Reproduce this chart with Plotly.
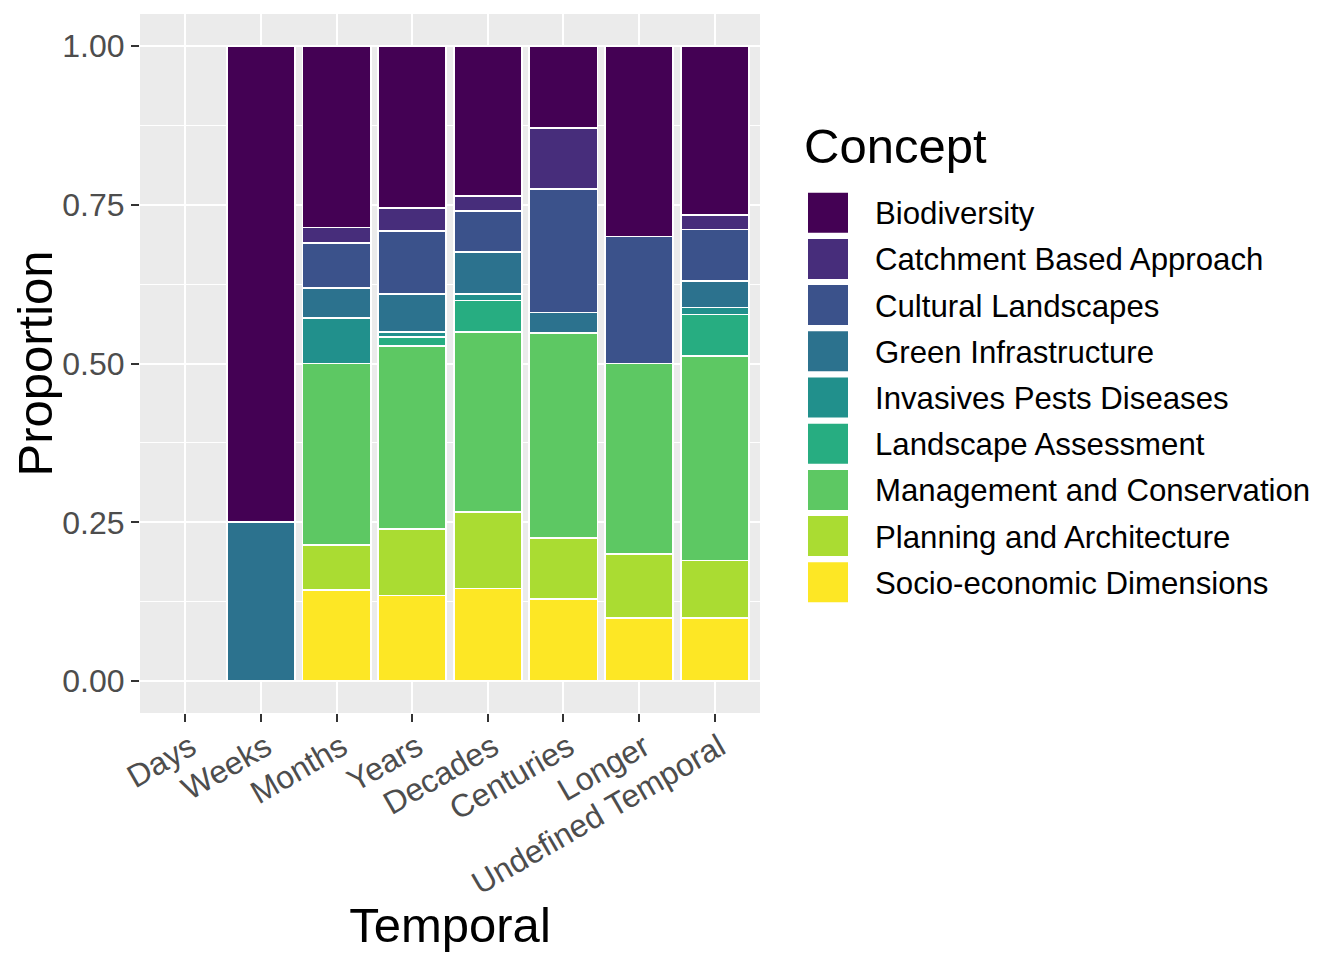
import plotly.graph_objects as go

# Temporal categories (x axis) and concepts (stack, legend order top -> bottom)
temporal = ["Days", "Weeks", "Months", "Years", "Decades", "Centuries", "Longer", "Undefined Temporal"]
concepts = [
    "Biodiversity",
    "Catchment Based Approach",
    "Cultural Landscapes",
    "Green Infrastructure",
    "Invasives Pests Diseases",
    "Landscape Assessment",
    "Management and Conservation",
    "Planning and Architecture",
    "Socio-economic Dimensions",
]
colors = ["#440154", "#472D7B", "#3B528B", "#2C728E", "#21908C",
          "#27AD81", "#5DC863", "#AADC32", "#FDE725"]

# proportions per temporal category (Days has no records)
biodiversity  = [0, 0.75, 0.286, 0.255, 0.236, 0.129, 0.30, 0.266]
catchment     = [0, 0,    0.024, 0.036, 0.024, 0.097, 0,    0.023]
cultural      = [0, 0,    0.071, 0.099, 0.064, 0.194, 0.20, 0.081]
green_infra   = [0, 0.25, 0.048, 0.060, 0.066, 0.032, 0,    0.042]
invasives     = [0, 0,    0.071, 0.008, 0.011, 0,     0,    0.011]
landscape     = [0, 0,    0,     0.014, 0.049, 0,     0,    0.065]
management    = [0, 0,    0.286, 0.288, 0.284, 0.323, 0.30, 0.322]
planning      = [0, 0,    0.071, 0.105, 0.120, 0.097, 0.10, 0.090]
socioeconomic = [0, 0,    0.143, 0.135, 0.146, 0.129, 0.10, 0.100]

values = [biodiversity, catchment, cultural, green_infra, invasives,
          landscape, management, planning, socioeconomic]

# page is 1344 x 960, the html body adds an 8px margin around the figure
W, H, BODY = 1344, 960, 8
PL, PR, PT, PB = 140, 760, 14, 713   # panel edges in page pixels
FW, FH = W - 2 * BODY, H - 2 * BODY
FONT = "Liberation Sans, Arial, sans-serif"


def px_x(p):
    return (p - PL) / (PR - PL)


def px_y(p):
    return (PB - p) / (PB - PT)


fig = go.Figure()
# ggplot stacks first level on top -> add traces bottom-up
for name, col, vals in reversed(list(zip(concepts, colors, values))):
    fig.add_trace(go.Bar(
        x=temporal,
        y=[v if v else None for v in vals],
        name=name,
        marker=dict(color=col, line=dict(color="white", width=1.8)),
        width=0.9,
        showlegend=False,
    ))

# legend drawn by hand to get ggplot-sized keys
shapes = []
annotations = [dict(
    x=px_x(802), y=px_y(146), xref="paper", yref="paper",
    text="Concept", showarrow=False, xanchor="left", yanchor="middle",
    font=dict(family=FONT, size=49, color="black"),
)]
key_top, key_step, key_size = 192.7, 46.2, 40
for i, (name, col) in enumerate(zip(concepts, colors)):
    top = key_top + i * key_step
    shapes.append(dict(
        type="rect", xref="paper", yref="paper",
        x0=px_x(808), x1=px_x(808 + key_size),
        y0=px_y(top + key_size), y1=px_y(top),
        fillcolor=col, line=dict(width=0),
    ))
    annotations.append(dict(
        x=px_x(873), y=px_y(top + key_size / 2 + 1), xref="paper", yref="paper",
        text=name, showarrow=False, xanchor="left", yanchor="middle",
        font=dict(family=FONT, size=31.2, color="black"),
    ))

fig.update_layout(
    width=FW, height=FH,
    barmode="stack",
    barnorm="fraction",
    bargap=0.1,
    paper_bgcolor="white",
    plot_bgcolor="#EBEBEB",
    margin=dict(l=PL - BODY, r=FW - (PR - BODY), t=PT - BODY, b=FH - (PB - BODY), autoexpand=False),
    font=dict(family=FONT),
    shapes=shapes,
    annotations=annotations,
    showlegend=False,
)
fig.update_xaxes(
    type="category",
    categoryorder="array", categoryarray=temporal,
    range=[-0.6, len(temporal) - 0.4],
    showgrid=True, gridcolor="white", gridwidth=2,
    ticks="outside", ticklen=8, tickwidth=2, tickcolor="#333333",
    tickangle=-30,
    ticklabelshift=5, ticklabelstandoff=-6,
    tickfont=dict(family=FONT, size=32, color="#4D4D4D"),
    title=dict(text="Temporal", font=dict(family=FONT, size=49, color="black"), standoff=2),
    zeroline=False, showline=False, automargin=False,
)
fig.update_yaxes(
    range=[-0.05, 1.05],
    tickvals=[0, 0.25, 0.5, 0.75, 1.0],
    ticktext=["0.00", "0.25", "0.50", "0.75", "1.00"],
    showgrid=True, gridcolor="white", gridwidth=2,
    minor=dict(tick0=0.125, dtick=0.25, showgrid=True, gridcolor="white", gridwidth=1, ticks=""),
    ticks="outside", ticklen=8, tickwidth=2, tickcolor="#333333",
    tickfont=dict(family=FONT, size=32, color="#4D4D4D"),
    title=dict(text="Proportion", font=dict(family=FONT, size=49, color="black"), standoff=4),
    zeroline=False, showline=False, automargin=False,
)

fig.write_html("out.html")
